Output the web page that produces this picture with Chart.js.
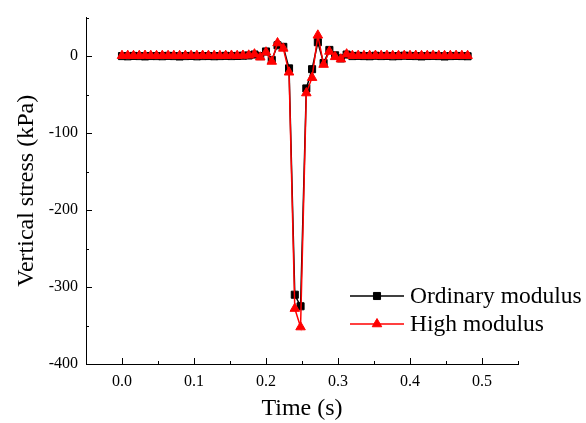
<!DOCTYPE html>
<html>
<head>
<meta charset="utf-8">
<script src="https://cdn.jsdelivr.net/npm/chart.js@4/dist/chart.umd.min.js"></script>
<style>
  html, body { margin: 0; padding: 0; background: #fff; }
</style>
</head>
<body>
<canvas id="js-chart-stress" width="586" height="423"></canvas>
<script>
// Time samples (s)
const timeS = [
  0, 0.008, 0.016, 0.024, 0.032, 0.04, 0.048, 0.056, 0.064, 0.072,
  0.08, 0.088, 0.096, 0.104, 0.112, 0.12, 0.128, 0.136, 0.144, 0.152,
  0.16, 0.168, 0.176, 0.184, 0.192, 0.2, 0.208, 0.216, 0.224, 0.232,
  0.24, 0.248, 0.256, 0.264, 0.272, 0.28, 0.288, 0.296, 0.304, 0.312,
  0.32, 0.328, 0.336, 0.344, 0.352, 0.36, 0.368, 0.376, 0.384, 0.392,
  0.4, 0.408, 0.416, 0.424, 0.432, 0.44, 0.448, 0.456, 0.464, 0.472, 0.48
];

// Vertical stress (kPa), ordinary modulus
const ordinaryStress = [
  0, -0.3, 0.2, 0, -0.4, 0.1, 0, -0.2, 0.3, 0,
  -0.5, 0, 0.2, -0.3, 0, 0.1, -0.2, 0, 0.3, 0,
  0.2, 0.5, 0.8, 2, 0, 6, -5, 14, 12, -16,
  -310, -325, -42, -17, 18, -9, 8, 1, -3, 2,
  0, 0.3, 0, -0.2, 0.4, 0, 0.2, -0.3, 0, 0.5,
  0.2, 0, -0.4, 0.1, 0.3, 0, -0.5, 0, 0.2, 0, -0.2
];

// Vertical stress (kPa), high modulus
const highStress = [
  0.5, 0.6, 0.4, 0.5, 0.7, 0.5, 0.4, 0.6, 0.5, 0.5,
  0.4, 0.6, 0.5, 0.5, 0.7, 0.6, 0.5, 0.4, 0.6, 0.8,
  0.5, 0.8, 1, 2.5, -1.5, 5, -7, 17, 10, -21,
  -328, -352, -48, -28, 27, -11, 6, -1, -4, 2.5,
  0.5, 0.6, 0.4, 0.5, 0.7, 0.5, 0.6, 0.4, 0.5, 0.6,
  0.5, 0.7, 0.4, 0.5, 0.6, 0.5, 0.4, 0.5, 0.6, 0.5, 0.5
];

// Axis ticks
const xMajorTicks = [0, 0.1, 0.2, 0.3, 0.4, 0.5];
const xMinorTicks = [0.05, 0.15, 0.25, 0.35, 0.45, 0.55];
const yMajorTicks = [0, -100, -200, -300, -400];
const yMinorTicks = [50, -50, -150, -250, -350];

const seriesNames = ['Ordinary modulus', 'High modulus'];

const serif = '"Liberation Serif", "Times New Roman", serif';

// Inward tick marks (Origin style)
const inwardTicks = {
  id: 'inwardTicks',
  afterDraw(chart) {
    const {ctx, scales: {x, y}} = chart;
    ctx.save();
    ctx.strokeStyle = '#000';
    ctx.lineWidth = 1;
    ctx.beginPath();
    const xb = y.bottom;
    xMajorTicks.forEach(v => { const px = Math.round(x.getPixelForValue(v)) + 0.5; ctx.moveTo(px, xb); ctx.lineTo(px, xb - 6); });
    xMinorTicks.forEach(v => { const px = Math.round(x.getPixelForValue(v)) + 0.5; ctx.moveTo(px, xb); ctx.lineTo(px, xb - 3); });
    const yl = x.left;
    yMajorTicks.forEach(v => { const py = Math.round(y.getPixelForValue(v)) + 0.5; ctx.moveTo(yl, py); ctx.lineTo(yl + 6, py); });
    yMinorTicks.forEach(v => { const py = Math.round(y.getPixelForValue(v)) + 0.5; ctx.moveTo(yl, py); ctx.lineTo(yl + 3, py); });
    ctx.stroke();
    ctx.restore();
  }
};

// Legend drawn inside the plot: line + marker + label
const insideLegend = {
  id: 'insideLegend',
  afterDraw(chart) {
    const {ctx} = chart;
    const rows = [
      {ds: chart.data.datasets[0], y: 296},
      {ds: chart.data.datasets[1], y: 324}
    ];
    ctx.save();
    rows.forEach(r => {
      ctx.strokeStyle = r.ds.borderColor;
      ctx.lineWidth = 1.5;
      ctx.beginPath();
      ctx.moveTo(350, r.y);
      ctx.lineTo(404, r.y);
      ctx.stroke();
      ctx.fillStyle = r.ds.pointBackgroundColor;
      ctx.strokeStyle = r.ds.pointBorderColor;
      ctx.lineWidth = 1;
      Chart.helpers.drawPoint(ctx, {
        pointStyle: r.ds.pointStyle,
        radius: r.ds.pointRadius,
        borderWidth: 1,
        rotation: 0
      }, 377, r.y);
      ctx.fillStyle = '#000';
      ctx.font = '23.5px ' + serif;
      ctx.textAlign = 'left';
      ctx.textBaseline = 'middle';
      ctx.fillText(r.ds.label, 410, r.y + 1);
    });
    ctx.restore();
  }
};

const chartCon = document.getElementById('js-chart-stress');

new Chart(chartCon, {
  type: 'line',
  data: {
    datasets: [
      {
        label: seriesNames[0],
        data: timeS.map((t, i) => ({x: t, y: ordinaryStress[i]})),
        borderColor: '#000000',
        borderWidth: 1.5,
        pointStyle: 'rect',
        pointRadius: 5,
        pointBackgroundColor: '#000000',
        pointBorderColor: '#000000',
        pointBorderWidth: 1,
        tension: 0,
        order: 2
      },
      {
        label: seriesNames[1],
        data: timeS.map((t, i) => ({x: t, y: highStress[i]})),
        borderColor: '#ff0000',
        borderWidth: 1.5,
        pointStyle: 'triangle',
        pointRadius: 5.5,
        pointBackgroundColor: '#ff0000',
        pointBorderColor: '#ff0000',
        pointBorderWidth: 1,
        tension: 0,
        order: 1
      }
    ]
  },
  options: {
    responsive: false,
    animation: false,
    devicePixelRatio: 1,
    layout: {padding: {left: 0, top: 15, right: 68, bottom: 0}},
    plugins: {
      legend: {display: false},
      tooltip: {enabled: false}
    },
    scales: {
      x: {
        type: 'linear',
        min: -0.05,
        max: 0.55,
        afterBuildTicks: s => { s.ticks = xMajorTicks.map(v => ({value: v})); },
        afterFit: s => { s.height = 59; },
        grid: {display: false, drawTicks: false},
        border: {display: true, color: '#000', width: 1},
        ticks: {
          color: '#000',
          padding: 8,
          font: {family: serif, size: 16},
          callback: v => v.toFixed(1)
        },
        title: {
          display: true,
          text: 'Time (s)',
          color: '#000',
          font: {family: serif, size: 24},
          padding: {top: 0, bottom: 0}
        }
      },
      y: {
        type: 'linear',
        min: -400,
        max: 50,
        afterBuildTicks: s => { s.ticks = yMajorTicks.map(v => ({value: v})); },
        afterFit: s => { s.width = 86; },
        grid: {display: false, drawTicks: false},
        border: {display: true, color: '#000', width: 1},
        ticks: {
          color: '#000',
          padding: 8,
          font: {family: serif, size: 16},
          callback: v => String(v)
        },
        title: {
          display: true,
          text: 'Vertical stress (kPa)',
          color: '#000',
          font: {family: serif, size: 24},
          padding: {top: 12, bottom: 0}
        }
      }
    }
  },
  plugins: [inwardTicks, insideLegend]
});
</script>
</body>
</html>
